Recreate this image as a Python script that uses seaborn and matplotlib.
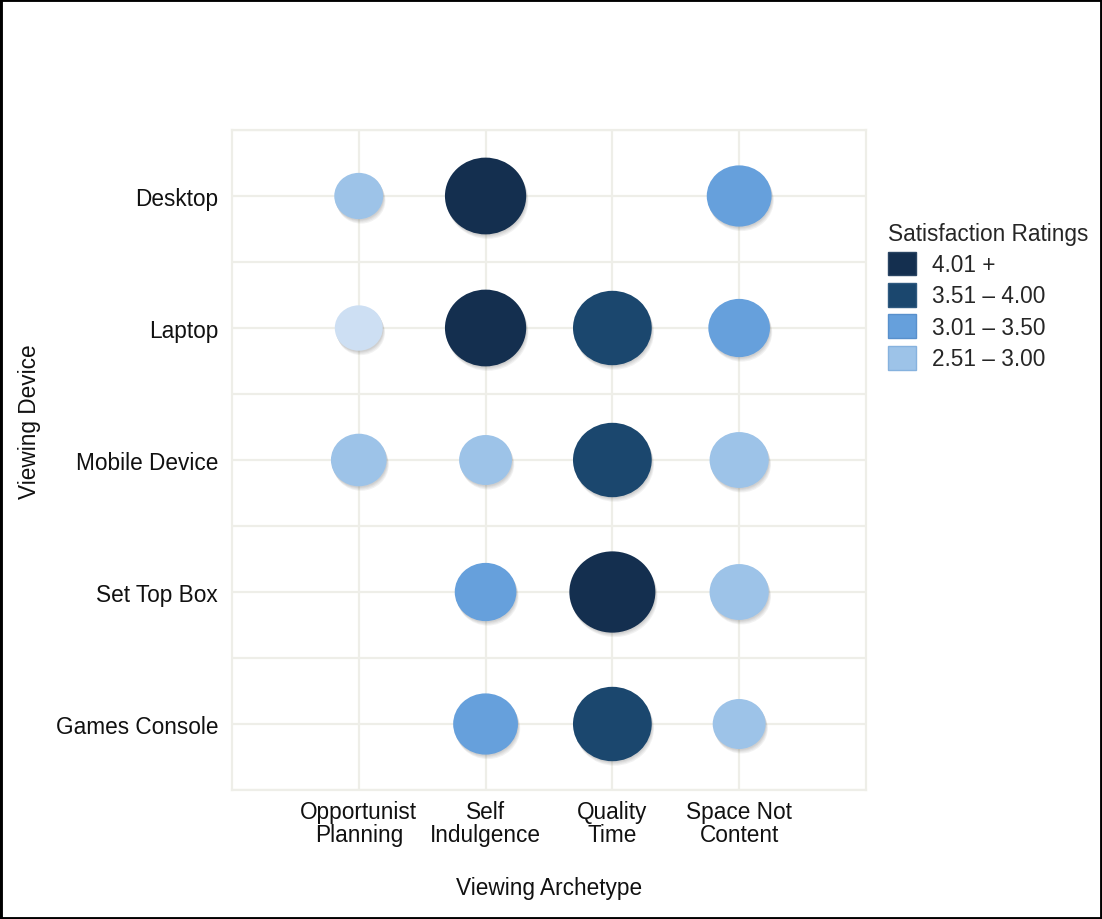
import matplotlib
matplotlib.use("Agg")
import matplotlib.pyplot as plt
import matplotlib.patheffects as pe
from matplotlib.patches import Patch, Rectangle
from matplotlib.path import Path
from matplotlib.transforms import Affine2D
from matplotlib.ticker import MultipleLocator
import numpy as np
import pandas as pd
import seaborn as sns

# ---- data -------------------------------------------------------------
archetypes = ["Opportunist\nPlanning", "Self\nIndulgence", "Quality\nTime", "Space Not\nContent"]
devices = ["Desktop", "Laptop", "Mobile Device", "Set Top Box", "Games Console"]

rating_bands = ["4.01 +", "3.51 \u2013 4.00", "3.01 \u2013 3.50", "2.51 \u2013 3.00"]
low_band = "\u2264 2.50"

point_device = ["Desktop", "Desktop", "Desktop",
                "Laptop", "Laptop", "Laptop", "Laptop",
                "Mobile Device", "Mobile Device", "Mobile Device", "Mobile Device",
                "Set Top Box", "Set Top Box", "Set Top Box",
                "Games Console", "Games Console", "Games Console"]
point_archetype = [archetypes[0], archetypes[1], archetypes[3],
                   archetypes[0], archetypes[1], archetypes[2], archetypes[3],
                   archetypes[0], archetypes[1], archetypes[2], archetypes[3],
                   archetypes[1], archetypes[2], archetypes[3],
                   archetypes[1], archetypes[2], archetypes[3]]
point_band = [rating_bands[3], rating_bands[0], rating_bands[2],
              low_band, rating_bands[0], rating_bands[1], rating_bands[2],
              rating_bands[3], rating_bands[3], rating_bands[1], rating_bands[3],
              rating_bands[2], rating_bands[0], rating_bands[3],
              rating_bands[2], rating_bands[1], rating_bands[3]]
point_weight = [24, 66, 42,
                23, 66, 62, 38,
                31, 28, 62, 35,
                38, 74, 35,
                42, 62, 28]

band_colors = {
    "4.01 +": "#142f4f",
    "3.51 \u2013 4.00": "#1b476e",
    "3.01 \u2013 3.50": "#66a0dc",
    "2.51 \u2013 3.00": "#9dc3e8",
    "\u2264 2.50": "#cddff3",
}
band_edges = {
    "4.01 +": "#2a4563",
    "3.51 \u2013 4.00": "#2f5a80",
    "3.01 \u2013 3.50": "#5890cc",
    "2.51 \u2013 3.00": "#86b2de",
}

df = pd.DataFrame({
    "Viewing Archetype": pd.Categorical(point_archetype, categories=archetypes, ordered=True),
    "Viewing Device": pd.Categorical(point_device, categories=devices, ordered=True),
    "Satisfaction Ratings": point_band,
    "weight": point_weight,
})

# ---- style ------------------------------------------------------------
sns.set_style("white")
plt.rcParams["font.family"] = ["Liberation Sans", "DejaVu Sans"]
grid_color = "#eeeee8"
fs = 16.3

fig = plt.figure(figsize=(11.02, 9.2), dpi=100)
ax = fig.add_axes([0.2105, 0.1402, 0.5753, 0.7174])

# slightly wide elliptical bubble marker
bubble = Path.unit_circle().transformed(Affine2D().scale(1.0, 0.945))

sns.scatterplot(
    data=df, x="Viewing Archetype", y="Viewing Device",
    hue="Satisfaction Ratings", palette=band_colors,
    size="weight", sizes=(0, 5184), size_norm=(0, 100),
    marker=bubble, linewidth=0, legend=False, ax=ax, zorder=3,
)

# soft drop shadow under each bubble
shadow = [pe.SimplePatchShadow(offset=(o * 0.5, -o), shadow_rgbFace="#4a4a4a", alpha=0.07)
          for o in (3.2, 2.4, 1.6, 0.9)]
for coll in ax.collections:
    coll.set_path_effects(shadow + [pe.Normal()])

# ---- axes -------------------------------------------------------------
ax.set_xlim(-1, 4)
ax.set_ylim(4.5, -0.5)
ax.set_xticks(range(len(archetypes)))
ax.set_xticklabels(archetypes)
ax.set_yticks(range(len(devices)))
ax.set_yticklabels(devices)
ax.yaxis.set_minor_locator(MultipleLocator(0.5))
ax.set_axisbelow(True)
ax.grid(True, axis="x", which="major", color=grid_color, lw=1.6)
ax.grid(True, axis="y", which="both", color=grid_color, lw=1.6)
ax.tick_params(axis="both", which="both", length=0, labelsize=fs, colors="#111111")
ax.tick_params(axis="x", pad=7)
ax.tick_params(axis="y", pad=10)
for lab in ax.get_xticklabels():
    lab.set_linespacing(1.0)
for s in ax.spines.values():
    s.set_color(grid_color)
    s.set_linewidth(1.6)

ax.set_xlabel("Viewing Archetype", fontsize=fs, color="#111111")
ax.set_ylabel("Viewing Device", fontsize=fs, color="#111111")
ax.xaxis.set_label_coords(0.5, -0.131)
ax.yaxis.set_label_coords(-0.302, 0.559)

# ---- legend -----------------------------------------------------------
handles = [Patch(facecolor=band_colors[b], edgecolor=band_edges[b], lw=1.0, label=b)
           for b in rating_bands]
leg = ax.legend(
    handles=handles, title="Satisfaction Ratings", loc="upper left",
    bbox_to_anchor=(1.035, 0.861), frameon=False, fontsize=fs,
    title_fontsize=fs, handlelength=1.25, handleheight=1.25,
    labelspacing=0.3, handletextpad=0.7, borderaxespad=0, borderpad=0,
    alignment="left",
)

# figure frame
fig.patches.append(Rectangle((0, 0), 1, 1, transform=fig.transFigure, fill=False,
                             edgecolor="black", lw=3.5, zorder=10))

fig.savefig("out.png", dpi=100, facecolor="white")
